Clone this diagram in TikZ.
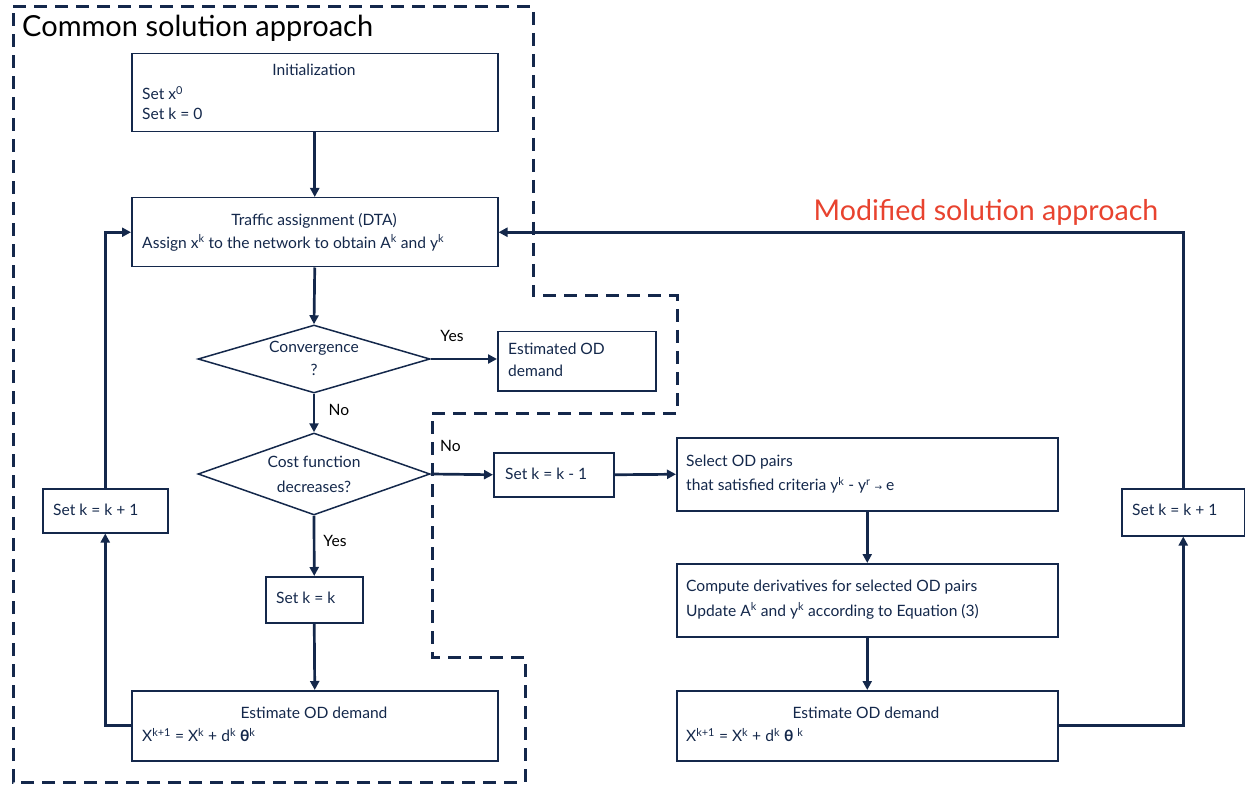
\documentclass[tikz,border=0pt]{standalone}
\usepackage{fontspec}
\setmainfont{Lato}
\newfontfamily\symfont{DejaVu Sans}
\usetikzlibrary{arrows.meta,shapes.geometric}
\definecolor{navy}{HTML}{14284B}
\definecolor{mred}{HTML}{E8432F}
\newcommand{\mysup}[1]{\textsuperscript{#1}}
\begin{document}
\begin{tikzpicture}[x=1pt,y=-1pt,
  box/.style={draw=navy, line width=1.5pt, fill=white, inner sep=0, anchor=north west},
  dia/.style={diamond, draw=navy, line width=1.5pt, fill=white, inner sep=0, aspect=3.4, minimum width=232pt, minimum height=68pt},
  txt/.style={text=navy, font=\fontsize{15.6}{18}\selectfont, inner sep=0},
  arr/.style={draw=navy, line width=2.7pt, -{Triangle[length=9pt,width=9pt]}},
  bound/.style={draw=navy, line width=3pt, dash pattern=on 13pt off 8pt}]
\useasboundingbox (0,0) rectangle (1245,786);

% dashed boundary
\draw[bound] (13,7) -- (533,7) -- (533,296) -- (677,296) -- (677,413) -- (432,413) -- (432,657) -- (525,657) -- (525,782) -- (13,782) -- cycle;

% titles
\node[text=black, font=\fontsize{29}{32}\selectfont, inner sep=0, anchor=west] (title) at (22,28) {Common solution approach};
\node[text=mred, font=\fontsize{28.6}{32}\selectfont, inner sep=0] (mtitle) at (986,212) {Modified solution approach};

% boxes
\node[box, minimum width=366pt, minimum height=78pt] (init) at (131,53) {};
\node[box, minimum width=366pt, minimum height=69pt] (ta) at (131,197) {};
\node[dia] (conv) at (314,359) {};
\node[box, minimum width=158pt, minimum height=59pt] (est) at (497,331) {};
\node[dia, minimum height=82pt, aspect=2.8] (cost) at (314,474) {};
\node[box, minimum width=120pt, minimum height=44pt] (km1) at (493,452) {};
\node[box, minimum width=381pt, minimum height=73pt] (sel) at (676,437) {};
\node[box, minimum width=381pt, minimum height=73pt] (comp) at (676,563) {};
\node[box, minimum width=381pt, minimum height=70pt] (estR) at (676,690) {};
\node[box, minimum width=97pt, minimum height=46pt] (keq) at (265,576) {};
\node[box, minimum width=366pt, minimum height=70pt] (estL) at (131,690) {};
\node[box, minimum width=125pt, minimum height=44pt] (kL) at (42,488) {};
\node[box, minimum width=123pt, minimum height=47pt] (kR) at (1121,488) {};

% texts
\node[txt] (t1) at (314,70) {Initialization};
\node[txt, anchor=west] (t2) at (142,93) {Set x\mysup{0}};
\node[txt, anchor=west] (t3) at (142,114) {Set k = 0};
\node[txt] (t4) at (314,221) {Traffic assignment (DTA)};
\node[txt, anchor=west] (t5) at (142,243) {Assign x\mysup{k} to the network to obtain A\mysup{k} and y\mysup{k}};
\node[txt] (t6) at (314,348) {Convergence};
\node[txt] (t7) at (314,370) {?};
\node[txt, anchor=west] (t8) at (508,349) {Estimated OD};
\node[txt, anchor=west] (t9) at (508,371) {demand};
\node[txt, text=black] (yes1) at (452,336) {Yes};
\node[txt, text=black] (no1) at (339,410) {No};
\node[txt] (t10) at (314,462) {Cost function};
\node[txt] (t11) at (314,487) {decreases?};
\node[txt, text=black, anchor=west] (no2) at (440,446) {No};
\node[txt, anchor=west] (t12) at (505,474) {Set k = k - 1};
\node[txt, anchor=west] (t13) at (686,462) {Select OD pairs};
\node[txt, anchor=west] (t14) at (686,485) {that satisfied criteria y\mysup{k} - y\mysup{r} {\symfont\fontsize{9}{10}\selectfont →} e};
\node[txt, text=black] (yes2) at (335,541) {Yes};
\node[txt, anchor=west] (t15) at (276,598) {Set k = k};
\node[txt, anchor=west] (t16) at (686,587) {Compute derivatives for selected OD pairs};
\node[txt, anchor=west] (t17) at (686,611) {Update A\mysup{k} and y\mysup{k} according to Equation (3)};
\node[txt] (t18) at (314,713) {Estimate OD demand};
\node[txt, anchor=west] (t19) at (142,735) {X\mysup{k+1} = X\mysup{k} + d\mysup{k} \textbf{θ}\mysup{k}};
\node[txt] (t20) at (866,713) {Estimate OD demand};
\node[txt, anchor=west] (t21) at (686,735) {X\mysup{k+1} = X\mysup{k} + d\mysup{k} \textbf{θ} \mysup{k}};
\node[txt, anchor=west] (t22) at (53,510) {Set k = k + 1};
\node[txt, anchor=west] (t23) at (1132,510) {Set k = k + 1};

% connectors
\draw[arr] (init.south) -- (ta.north);
\draw[arr] (ta.south) -- (conv.north);
\draw[arr] (conv.east) -- (est.west |- conv.east);
\draw[arr] (conv.south) -- (cost.north);
\draw[arr] (cost.east) -- (km1.west);
\draw[arr] (km1.east) -- (sel.west);
\draw[arr] (cost.south) -- (keq.north);
\draw[arr] (keq.south) -- (estL.north);
\draw[arr] (sel.south) -- (comp.north);
\draw[arr] (comp.south) -- (estR.north);
\draw[arr] (estL.west) -| (kL.south);
\draw[arr] (kL.north) |- (ta.west);
\draw[arr] (estR.east) -| (kR.south);
\draw[arr] (kR.north) |- (ta.east);
\end{tikzpicture}
\end{document}
